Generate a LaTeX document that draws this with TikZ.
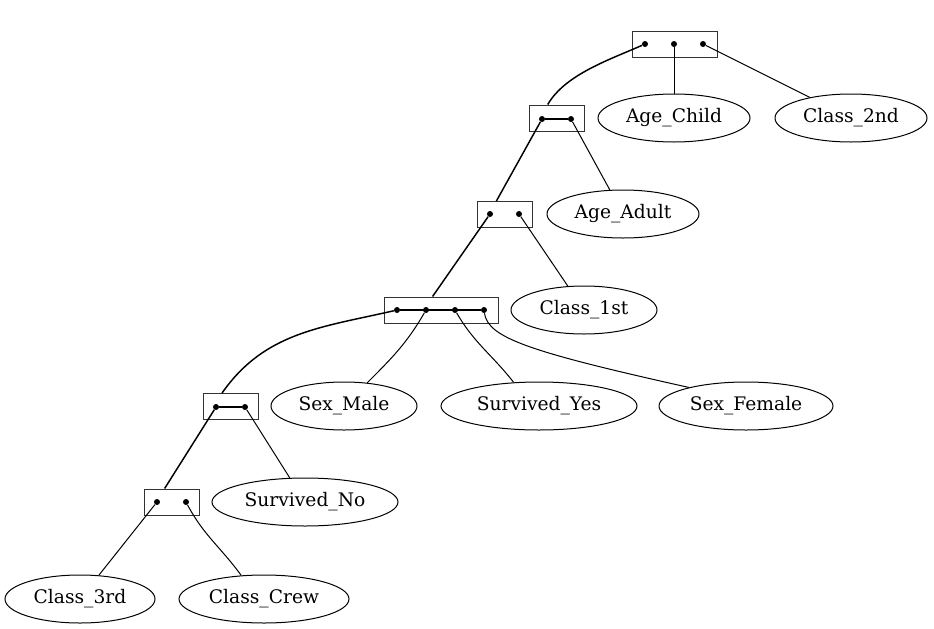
\documentclass[tikz,border=0pt]{standalone}
\usepackage{fontspec}
\setmainfont{DejaVu Serif}
\usetikzlibrary{shapes.geometric}
\tikzstyle{boite} = [rectangle, draw=black!80, line width=0.75pt, minimum height=19.5pt, inner sep=0pt]
\tikzstyle{feuille} = [ellipse, draw=black, line width=0.75pt, minimum height=36pt, inner sep=0pt]
\tikzstyle{point} = [circle, fill=black, minimum size=4.5pt, inner sep=0pt]
\tikzstyle{lien} = [line width=0.75pt]
\tikzstyle{branche} = [line width=1.1pt]
\tikzstyle{barre} = [line width=1.6pt]

\begin{document}
\begin{tikzpicture}[x=0.75pt, y=0.75pt, font=\fontsize{14}{16}\selectfont]
                \useasboundingbox (0,0) rectangle (934,-628);

                % les boites
                \node [boite, minimum width=63.75pt] (b1) at (674.5,-44) {};
                \node [boite, minimum width=41.25pt] (b2) at (556.5,-118) {};
                \node [boite, minimum width=41.25pt] (b3) at (504.5,-214.5) {};
                \node [boite, minimum width=85.5pt] (b4) at (441,-310) {};
                \node [boite, minimum width=41.25pt] (b5) at (230.5,-406.5) {};
                \node [boite, minimum width=41.25pt] (b6) at (171.5,-502) {};

                % les points
                \node [point] (d11) at (645,-44) {};
                \node [point] (d12) at (674,-44) {};
                \node [point] (d13) at (703,-44) {};
                \node [point] (d21) at (542,-119) {};
                \node [point] (d22) at (571,-119) {};
                \node [point] (d31) at (490,-214) {};
                \node [point] (d32) at (519,-214) {};
                \node [point] (d41) at (397,-310) {};
                \node [point] (d42) at (426,-310) {};
                \node [point] (d43) at (455,-310) {};
                \node [point] (d44) at (484,-310) {};
                \node [point] (d51) at (216,-407) {};
                \node [point] (d52) at (245,-407) {};
                \node [point] (d61) at (157,-502) {};
                \node [point] (d62) at (186,-502) {};

                \draw [barre] (d21) -- (d22);
                \draw [barre] (d41) -- (d44);
                \draw [barre] (d51) -- (d52);

                % les feuilles
                \node [feuille, minimum width=114pt] (achild) at (674,-118) {Age\_Child};
                \node [feuille, minimum width=114pt] (c2nd) at (851,-118) {Class\_2nd};
                \node [feuille, minimum width=114pt] (aadult) at (623,-214) {Age\_Adult};
                \node [feuille, minimum width=109.5pt] (c1st) at (584,-310) {Class\_1st};
                \node [feuille, minimum width=109.5pt] (smale) at (344,-406) {Sex\_Male};
                \node [feuille, minimum width=147pt] (syes) at (539,-406) {Survived\_Yes};
                \node [feuille, minimum width=130.5pt] (sfemale) at (746,-406) {Sex\_Female};
                \node [feuille, minimum width=139.5pt] (sno) at (305,-502) {Survived\_No};
                \node [feuille, minimum width=112.5pt] (c3rd) at (80,-599) {Class\_3rd};
                \node [feuille, minimum width=127.5pt] (ccrew) at (264,-599) {Class\_Crew};

                % les liens
                \draw [branche] (d11) to[out=204, in=60, looseness=0.8] (b2.123);
                \draw [lien] (d12) -- (achild);
                \draw [lien] (d13) -- (c2nd);
                \draw [branche] (d21) -- (b3.121);
                \draw [lien] (d22) -- (aadult);
                \draw [branche] (d31) -- (b4.122);
                \draw [lien] (d32) -- (c1st);
                \draw [branche] (d41) to[out=193, in=55] (b5.122);
                \draw [lien] (d42) to[out=240, in=45] (smale.45);
                \draw [lien] (d43) to[out=-60, in=128] (syes.137);
                \draw [lien] (d44) .. controls (488,-338) and (530,-352) .. (sfemale.162);
                \draw [branche] (d51) -- (b6.117);
                \draw [lien] (d52) -- (sno);
                \draw [lien] (d61) -- (c3rd);
                \draw [lien] (d62) to[out=-62, in=126] (ccrew.134);
            \end{tikzpicture}
\end{document}
